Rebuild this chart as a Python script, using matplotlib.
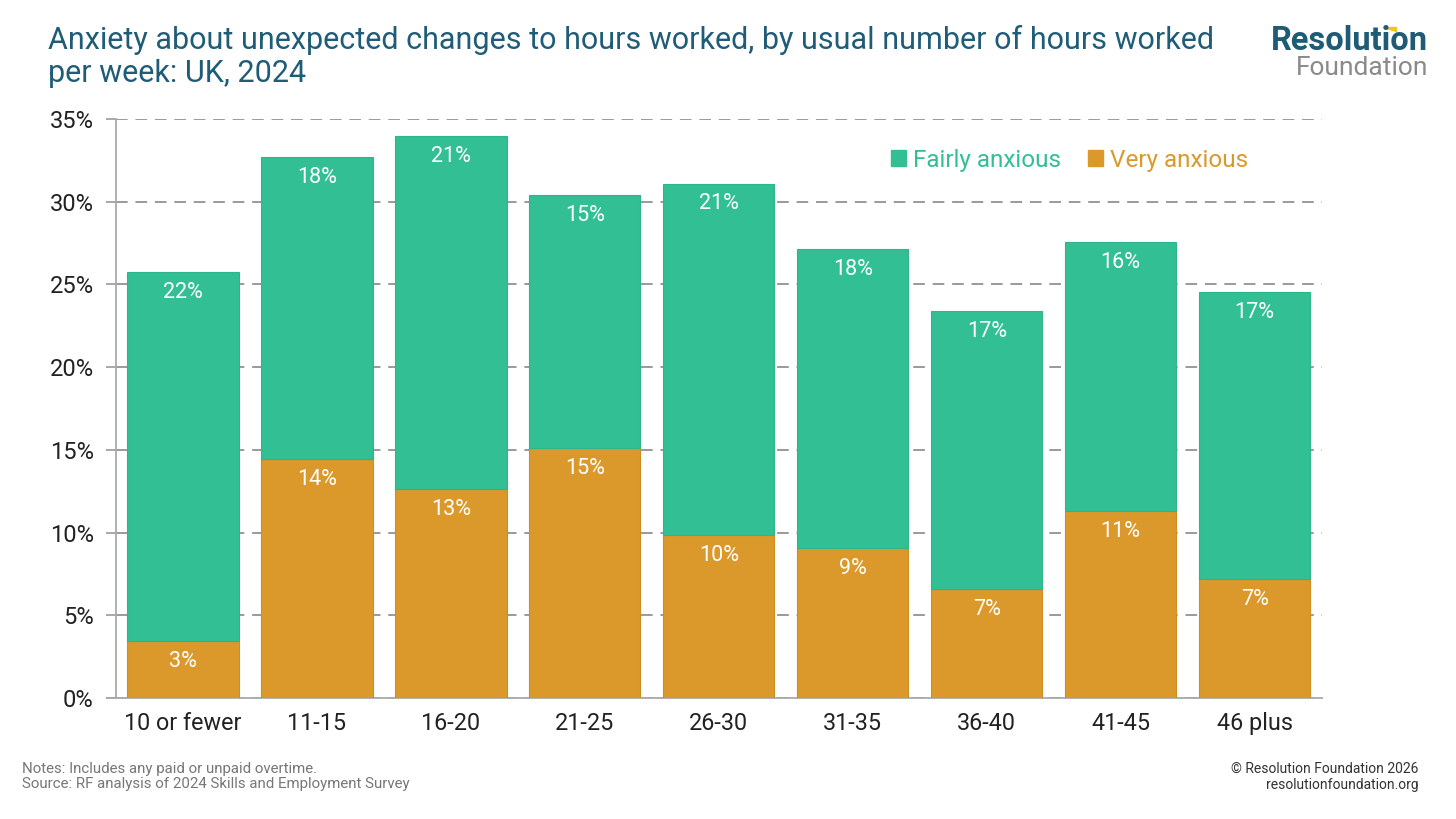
import matplotlib
matplotlib.use("Agg")
import matplotlib.pyplot as plt
from matplotlib.patches import Patch, Polygon

plt.rcParams["font.family"] = ["Roboto", "DejaVu Sans"]

# ---- Data ----
categories = ["10 or fewer", "11-15", "16-20", "21-25", "26-30",
              "31-35", "36-40", "41-45", "46 plus"]
very_anxious = [3.45, 14.45, 12.64, 15.11, 9.85, 9.07, 6.59, 11.31, 7.19]
fairly_anxious = [22.3, 18.25, 21.34, 15.3, 21.23, 18.08, 16.81, 16.26, 17.36]
y_ticks = [0, 5, 10, 15, 20, 25, 30, 35]

GREEN = "#32BF94"
ORANGE = "#DB992B"
TEAL = "#1F5C77"
GRID = "#9a9a9a"

fig = plt.figure(figsize=(14.56, 8.19), dpi=100)
ax = fig.add_axes([0.0797, 0.1477, 0.828, 0.707])

x = list(range(len(categories)))
width = 0.83
ax.bar(x, very_anxious, width=width, color=ORANGE, edgecolor="#d08e20",
       linewidth=0.8, zorder=3)
ax.bar(x, fairly_anxious, width=width, bottom=very_anxious, color=GREEN,
       edgecolor="#2eb58b", linewidth=0.8, zorder=3)

# Segment labels, just below the top of each segment
for i in x:
    ax.annotate(f"{very_anxious[i]:.0f}%", (i, very_anxious[i]),
                xytext=(0, -14.5), textcoords="offset points",
                ha="center", va="center", color="white", fontsize=15.5, zorder=4)
    top = very_anxious[i] + fairly_anxious[i]
    ax.annotate(f"{fairly_anxious[i]:.0f}%", (i, top),
                xytext=(0, -14.5), textcoords="offset points",
                ha="center", va="center", color="white", fontsize=15.5, zorder=4)

ax.set_xlim(-0.5, 8.5)
ax.set_ylim(0, 35)
ax.set_yticks(y_ticks)
ax.set_yticklabels([f"{v}%" for v in y_ticks])
ax.set_xticks(x)
ax.set_xticklabels(categories)
ax.tick_params(axis="x", length=0, labelsize=16.8, pad=10, colors="#222222")
ax.tick_params(axis="y", length=7, width=1.2, color=GRID, labelsize=17,
               pad=9, labelcolor="#222222")

ax.yaxis.grid(True, color=GRID, linestyle=(0, (6, 4)), linewidth=1.4, zorder=0)
ax.set_axisbelow(True)
for side in ["top", "right"]:
    ax.spines[side].set_visible(False)
for side in ["left", "bottom"]:
    ax.spines[side].set_color("#aaaaaa")
    ax.spines[side].set_linewidth(1.3)

handles = [Patch(color=GREEN), Patch(color=ORANGE)]
ax.legend(handles, ["Fairly anxious", "Very anxious"], ncol=2,
          loc="center", bbox_to_anchor=(0.791, 0.929), frameon=False,
          fontsize=17.5, labelcolor=[GREEN, ORANGE], handlelength=0.6,
          handleheight=0.6, handletextpad=0.3, columnspacing=1.1)

# Title
fig.text(0.033, 0.931, "Anxiety about unexpected changes to hours worked, by usual number of hours worked\nper week: UK, 2024",
         ha="left", va="center", fontsize=22, color=TEAL, linespacing=1.15)

# Logo
fig.text(0.981, 0.9390, "Resolution", ha="right", va="baseline", fontsize=23.5,
         fontweight="bold", color="#1E5B74")
fig.text(0.981, 0.9085, "Foundation", ha="right", va="baseline", fontsize=19,
         color="#8a8a8a")
fig.patches.append(Polygon([[0.9499, 0.9668], [0.9588, 0.9668], [0.9588, 0.9619]],
                           closed=True, transform=fig.transFigure,
                           color="#F2C618"))

# Footers
fig.text(0.015, 0.052, "Notes: Includes any paid or unpaid overtime.\nSource: RF analysis of 2024 Skills and Employment Survey",
         ha="left", va="center", fontsize=10.8, color="#777777", linespacing=1.15)
fig.text(0.974, 0.051, "\u00a9 Resolution Foundation 2026\nresolutionfoundation.org",
         ha="right", va="center", fontsize=10, color="#333333", linespacing=1.2)

fig.savefig("out.png", dpi=100)
